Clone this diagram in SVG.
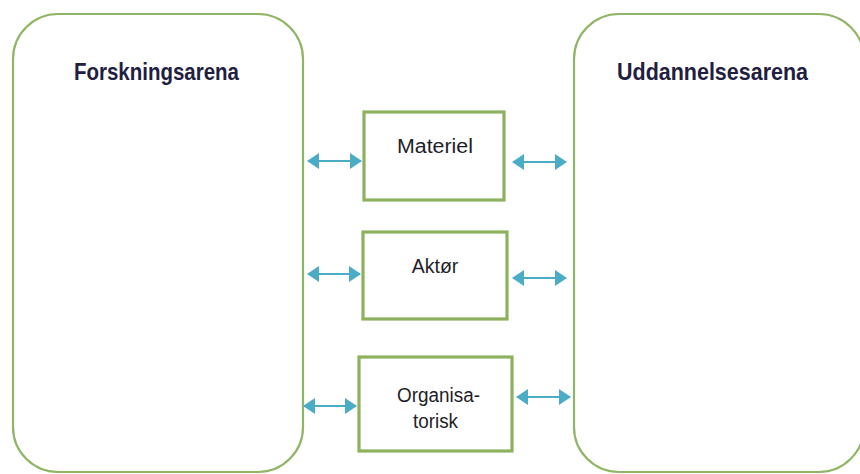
<svg xmlns="http://www.w3.org/2000/svg" width="860" height="474" viewBox="0 0 860 474">
<defs>
<style>
.arena{fill:#fff;stroke:#8fb566;stroke-width:2.2}
.box{fill:#fff;stroke:#8db15e;stroke-width:3.2}
.title{font-family:"Liberation Sans",Arial,sans-serif;font-weight:bold;font-size:24px;fill:#1f2040}
.lbl{font-family:"Liberation Sans",Arial,sans-serif;font-size:19.5px;fill:#1e1e28}
.conn{stroke:#4bacc6;stroke-width:2;fill:none;marker-start:url(#ah);marker-end:url(#ah)}
</style>
<marker id="ah" viewBox="0 0 12 16" refX="11" refY="8" markerWidth="12" markerHeight="16" markerUnits="userSpaceOnUse" orient="auto-start-reverse">
<path d="M0,0 L12,8 L0,16 Z" fill="#4bacc6"/>
</marker>
</defs>
<rect width="860" height="474" fill="#fff"/>
<g id="forskningsarena">
<rect class="arena" x="13" y="14" width="290" height="458" rx="45" ry="45"/>
<text class="title" x="156.5" y="80" text-anchor="middle" textLength="165" lengthAdjust="spacingAndGlyphs">Forskningsarena</text>
</g>
<g id="uddannelsesarena">
<rect class="arena" x="574" y="14" width="290" height="458" rx="45" ry="45"/>
<text class="title" x="712.5" y="80" text-anchor="middle" textLength="191" lengthAdjust="spacingAndGlyphs">Uddannelsesarena</text>
</g>
<g id="materiel">
<rect class="box" x="364" y="112" width="140" height="88"/>
<text class="lbl" x="435" y="153" text-anchor="middle" textLength="76" lengthAdjust="spacingAndGlyphs">Materiel</text>
</g>
<g id="aktor">
<rect class="box" x="363" y="232" width="144" height="87"/>
<text class="lbl" x="435" y="273" text-anchor="middle">Aktør</text>
</g>
<g id="organisatorisk">
<rect class="box" x="359" y="357" width="153" height="94"/>
<text class="lbl" x="438.5" y="402" text-anchor="middle" textLength="83" lengthAdjust="spacingAndGlyphs">Organisa-</text>
<text class="lbl" x="435.5" y="428" text-anchor="middle" textLength="45" lengthAdjust="spacingAndGlyphs">torisk</text>
</g>
<g id="connectors">
<line class="conn" x1="308" y1="161" x2="361" y2="161"/>
<line class="conn" x1="513" y1="162" x2="566" y2="162"/>
<line class="conn" x1="308" y1="274" x2="360" y2="274"/>
<line class="conn" x1="513" y1="278" x2="566" y2="278"/>
<line class="conn" x1="304" y1="406" x2="356" y2="406"/>
<line class="conn" x1="517" y1="397" x2="570" y2="397"/>
</g>
</svg>
